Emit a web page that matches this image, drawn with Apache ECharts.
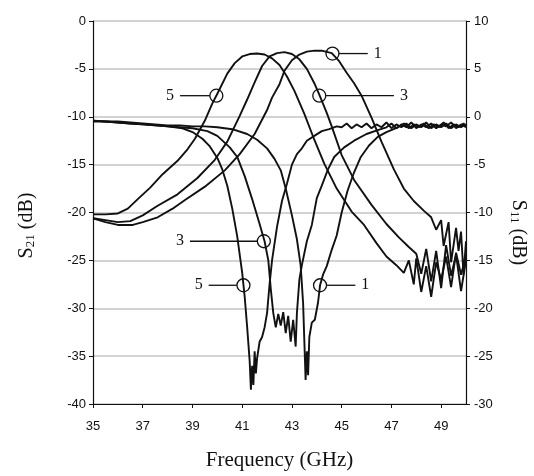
<!DOCTYPE html>
<html><head><meta charset="utf-8">
<script src="https://cdn.jsdelivr.net/npm/echarts@6/dist/echarts.min.js"></script>
<style>html,body{margin:0;padding:0;background:#fff}#c{width:534px;height:476px}</style>
</head><body><div id="c"></div>
<script>
// ---------- data (frequency in GHz, level in dB) ----------
const xTicks = [35, 37, 39, 41, 43, 45, 47, 49];

// S21 (left axis, dB)
const s21_5 = [[35.0,-20.2],[35.5,-20.2],[36.0,-20.1],[36.4,-19.6],[36.8,-18.6],[37.3,-17.4],[37.8,-16.0],[38.4,-14.6],[38.8,-13.4],[39.1,-12.3],[39.5,-10.4],[39.8,-8.6],[40.0,-7.6],[40.4,-5.5],[40.7,-4.4],[41.0,-3.7],[41.3,-3.45],[41.6,-3.4],[41.9,-3.5],[42.2,-3.9],[42.5,-4.6],[42.8,-5.8],[43.1,-7.3],[43.5,-9.7],[43.9,-12.4],[44.3,-14.9],[44.8,-17.5],[45.4,-19.9],[45.9,-21.3],[46.4,-23.2],[46.8,-24.6],[47.2,-25.5],[47.5,-26.3],[47.7,-25.0],[47.9,-27.5],[48.0,-24.8],[48.2,-28.3],[48.4,-25.6],[48.6,-28.8],[48.8,-25.2],[49.0,-27.0],[49.2,-24.6],[49.4,-27.8],[49.6,-24.2],[49.8,-26.5],[50.0,-24.5]];
const s21_3 = [[35.0,-20.6],[35.5,-20.8],[36.0,-21.0],[36.5,-20.9],[37.0,-20.3],[37.6,-19.3],[38.4,-18.1],[39.2,-16.4],[39.9,-14.5],[40.4,-12.6],[40.9,-9.9],[41.2,-8.2],[41.5,-6.4],[41.8,-4.7],[42.1,-3.7],[42.4,-3.35],[42.7,-3.25],[43.0,-3.45],[43.3,-4.0],[43.6,-5.0],[43.9,-6.5],[44.1,-7.7],[44.4,-9.6],[44.6,-11.0],[45.0,-14.0],[45.5,-16.6],[46.2,-19.2],[46.8,-21.2],[47.3,-22.6],[47.7,-23.6],[48.0,-24.3],[48.2,-26.4],[48.4,-23.8],[48.6,-27.2],[48.8,-24.0],[49.0,-27.9],[49.2,-23.4],[49.4,-26.6],[49.6,-24.4],[49.8,-28.2],[50.0,-25.0]];
const s21_1 = [[35.0,-20.6],[35.5,-21.0],[36.0,-21.3],[36.6,-21.3],[37.0,-21.0],[37.6,-20.5],[38.2,-19.6],[38.7,-18.7],[39.5,-17.3],[40.3,-15.6],[40.9,-13.9],[41.5,-11.8],[42.0,-9.3],[42.2,-8.0],[42.5,-6.6],[42.7,-5.2],[43.0,-4.1],[43.3,-3.5],[43.6,-3.2],[43.9,-3.1],[44.2,-3.1],[44.6,-3.35],[44.9,-4.2],[45.2,-5.4],[45.5,-6.5],[45.8,-7.8],[46.2,-10.1],[46.6,-12.6],[47.1,-15.5],[47.5,-17.5],[47.9,-18.8],[48.3,-19.8],[48.6,-20.5],[48.8,-21.8],[49.0,-20.8],[49.1,-23.5],[49.3,-21.0],[49.4,-25.2],[49.6,-21.6],[49.7,-24.0],[49.8,-22.0],[49.9,-26.5],[50.0,-23.0]];

// S11 (right axis, dB)
const s11_5 = [[35.0,-0.4],[35.5,-0.5],[36.0,-0.6],[36.5,-0.7],[37.0,-0.8],[37.5,-0.9],[38.0,-1.0],[38.6,-1.2],[39.0,-1.6],[39.4,-2.3],[39.7,-3.1],[40.0,-4.3],[40.2,-5.5],[40.4,-7.2],[40.6,-9.6],[40.8,-12.5],[41.0,-16.3],[41.1,-18.8],[41.2,-22.0],[41.3,-25.5],[41.35,-28.5],[41.4,-26.0],[41.45,-28.0],[41.5,-24.5],[41.55,-26.8],[41.6,-25.2],[41.7,-23.5],[41.8,-23.0],[41.9,-22.0],[42.0,-20.5],[42.1,-17.5],[42.2,-15.0],[42.4,-11.5],[42.6,-8.8],[42.8,-7.0],[43.0,-5.0],[43.2,-3.9],[43.4,-3.3],[43.6,-2.5],[43.9,-2.0],[44.2,-1.5],[44.5,-1.3],[44.8,-1.0],[45.0,-1.1],[45.2,-0.7],[45.4,-1.2],[45.6,-0.8],[45.8,-1.1],[46.0,-0.7],[46.2,-1.2],[46.4,-0.8],[46.6,-1.1],[46.8,-0.6],[47.0,-1.2],[47.2,-0.8],[47.4,-1.1],[47.6,-0.7],[47.8,-1.2],[48.0,-0.8],[48.2,-1.1],[48.4,-0.6],[48.6,-1.2],[48.8,-0.8],[49.0,-1.1],[49.2,-0.7],[49.4,-1.2],[49.6,-0.8],[49.8,-1.1],[50.0,-0.8]];
const s11_3 = [[35.0,-0.5],[35.5,-0.5],[36.0,-0.6],[36.5,-0.7],[37.0,-0.8],[37.5,-0.9],[38.0,-1.0],[38.5,-1.1],[39.0,-1.2],[39.6,-1.5],[40.0,-2.0],[40.5,-3.2],[40.8,-4.2],[41.1,-6.2],[41.4,-8.6],[41.7,-11.2],[41.9,-13.0],[42.05,-15.0],[42.15,-18.0],[42.25,-20.5],[42.35,-22.0],[42.45,-20.6],[42.55,-21.8],[42.65,-20.4],[42.75,-22.6],[42.85,-20.8],[42.95,-23.5],[43.05,-21.2],[43.15,-24.0],[43.2,-20.5],[43.3,-17.0],[43.4,-15.5],[43.6,-13.0],[43.8,-11.3],[44.0,-8.5],[44.2,-7.2],[44.45,-5.5],[44.7,-4.2],[45.1,-3.2],[45.5,-2.5],[46.0,-1.8],[46.45,-1.4],[46.8,-1.1],[47.0,-0.7],[47.2,-1.2],[47.4,-0.8],[47.6,-1.1],[47.8,-0.6],[48.0,-1.2],[48.2,-0.8],[48.4,-1.1],[48.6,-0.7],[48.8,-1.2],[49.0,-0.8],[49.2,-1.0],[49.4,-0.6],[49.6,-1.2],[49.8,-0.8],[50.0,-1.1]];
const s11_1 = [[35.0,-0.4],[35.5,-0.5],[36.0,-0.5],[36.5,-0.6],[37.0,-0.7],[37.5,-0.8],[38.0,-0.9],[38.5,-0.9],[39.0,-1.0],[39.5,-1.0],[40.0,-1.1],[40.6,-1.3],[41.2,-1.8],[41.6,-2.4],[42.0,-3.3],[42.3,-4.4],[42.55,-5.6],[42.75,-7.5],[43.0,-10.3],[43.2,-12.8],[43.35,-15.5],[43.45,-19.5],[43.5,-23.5],[43.55,-27.5],[43.6,-24.5],[43.65,-27.0],[43.7,-23.0],[43.8,-21.5],[43.92,-21.2],[44.05,-19.4],[44.13,-17.6],[44.25,-16.5],[44.4,-15.6],[44.6,-13.9],[44.8,-12.4],[45.0,-10.0],[45.24,-7.7],[45.5,-5.8],[45.77,-4.2],[46.1,-3.0],[46.45,-2.1],[46.8,-1.6],[47.26,-1.1],[47.5,-0.7],[47.7,-1.2],[47.9,-0.8],[48.1,-1.1],[48.3,-0.7],[48.5,-1.2],[48.7,-0.8],[48.9,-1.1],[49.1,-0.6],[49.3,-1.2],[49.5,-0.8],[49.7,-1.1],[49.9,-0.7],[50.0,-1.0]];

// curve annotations (circle on curve, leader line to label); values in left-axis dB
const annoText = ['5', '1', '3', '3', '5', '1'];
const annoFreq = [39.96, 44.63, 44.10, 41.87, 41.05, 44.13];
const annoDb = [-7.8, -3.4, -7.8, -23.0, -27.6, -27.6];
const annoLineEnd = [38.5, 46.05, 47.1, 38.9, 39.65, 45.55];

// ---------- chart ----------
const tickFont = "'Liberation Sans',Arial,sans-serif";
const titleFont = "'Liberation Serif','Times New Roman',serif";
const ink = '#111';

function curve(name, data, axis) {
  return { name, type: 'line', yAxisIndex: axis, data, symbol: 'none', showSymbol: false,
    lineStyle: { color: ink, width: 1.9 }, z: 3, silent: true };
}

const annoData = annoText.map((t, i) => [annoFreq[i], annoDb[i], annoLineEnd[i], i]);

const chart = echarts.init(document.getElementById('c'), null, { renderer: 'canvas' });
chart.setOption({
  animation: false,
  backgroundColor: '#fff',
  grid: { left: 93, right: 68, top: 21, bottom: 72, containLabel: false, outerBoundsMode: 'none' },
  xAxis: {
    type: 'value', min: 35, max: 50,
    axisLine: { show: true, onZero: false, lineStyle: { color: ink, width: 1.2 } },
    axisTick: { show: true, customValues: xTicks, length: 4, lineStyle: { color: ink } },
    axisLabel: { customValues: xTicks, margin: 16, fontFamily: tickFont, fontSize: 13, color: ink },
    splitLine: { show: false },
    name: 'Frequency (GHz)', nameLocation: 'middle', nameGap: 46,
    nameTextStyle: { fontFamily: titleFont, fontSize: 21, color: ink }
  },
  yAxis: [{
    type: 'value', position: 'left', min: -40, max: 0, interval: 5,
    axisLine: { show: true, onZero: false, lineStyle: { color: ink, width: 1.2 } },
    axisTick: { show: true, length: 4, lineStyle: { color: ink } },
    axisLabel: { margin: 7, fontFamily: tickFont, fontSize: 13, color: ink },
    splitLine: { show: true, lineStyle: { color: '#c4c4c4', width: 1.5 } },
    name: '{m|S}{s|21}{m| (dB)}', nameLocation: 'middle', nameRotate: 90, nameGap: 56,
    nameTextStyle: { padding: [0, 26, 0, 0], rich: {
      m: { fontFamily: titleFont, fontSize: 20, lineHeight: 20, padding: [0, 0, 3, 0], verticalAlign: 'top', color: ink },
      s: { fontFamily: titleFont, fontSize: 13, lineHeight: 13, verticalAlign: 'bottom', color: ink } } }
  }, {
    type: 'value', position: 'right', min: -30, max: 10, interval: 5,
    axisLine: { show: true, onZero: false, lineStyle: { color: ink, width: 1.2 } },
    axisTick: { show: true, length: 4, lineStyle: { color: ink } },
    axisLabel: { margin: 8, fontFamily: tickFont, fontSize: 13, color: ink },
    splitLine: { show: false },
    name: '{m|S}{s|11}{m| (dB)}', nameLocation: 'middle', nameRotate: -90, nameGap: 42,
    nameTextStyle: { padding: [0, 0, 0, 40], rich: {
      m: { fontFamily: titleFont, fontSize: 20, lineHeight: 20, padding: [0, 0, 3, 0], verticalAlign: 'top', color: ink },
      s: { fontFamily: titleFont, fontSize: 13, lineHeight: 13, verticalAlign: 'bottom', color: ink } } }
  }],
  series: [
    curve('S21 filter 5', s21_5, 0),
    curve('S21 filter 3', s21_3, 0),
    curve('S21 filter 1', s21_1, 0),
    curve('S11 filter 5', s11_5, 1),
    curve('S11 filter 3', s11_3, 1),
    curve('S11 filter 1', s11_1, 1),
    {
      type: 'custom', yAxisIndex: 0, data: annoData, z: 5, silent: true,
      renderItem: function (params, api) {
        const c = api.coord([api.value(0), api.value(1)]);
        const e = api.coord([api.value(2), api.value(1)]);
        const dir = e[0] < c[0] ? -1 : 1;
        const r = 6.5;
        return { type: 'group', children: [
          { type: 'circle', shape: { cx: c[0], cy: c[1], r: r }, style: { fill: 'none', stroke: ink, lineWidth: 1.3 } },
          { type: 'line', shape: { x1: c[0] + dir * r, y1: c[1], x2: e[0], y2: e[1] }, style: { stroke: ink, lineWidth: 1.3 } },
          { type: 'text', x: e[0] + dir * 10, y: e[1], style: { text: annoText[api.value(3)], fontFamily: titleFont, fontSize: 16,
            fill: ink, align: 'center', verticalAlign: 'middle' } }
        ] };
      }
    }
  ]
});
</script>
</body></html>
